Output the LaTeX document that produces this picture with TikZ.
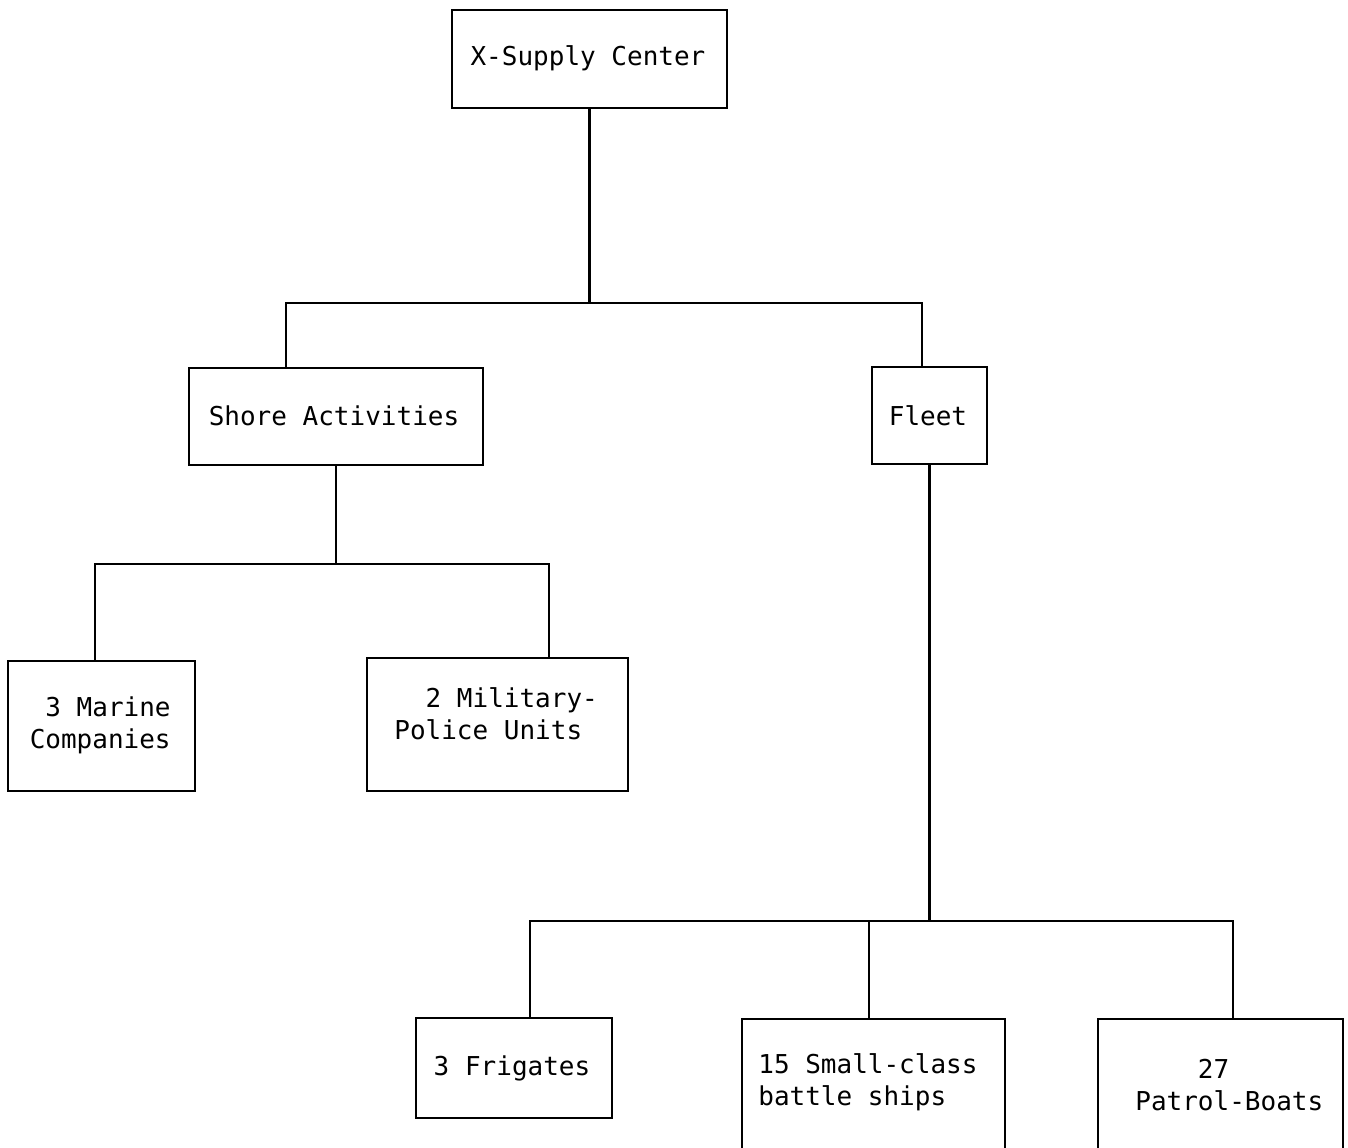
\documentclass[tikz,border=0pt]{standalone}
\usepackage{fontspec}
\newfontfamily\twfont{DejaVu Sans Mono}
\begin{document}
\begin{tikzpicture}[x=0.02cm,y=-0.02cm,
  box/.style={draw=black, line width=1.2pt, inner sep=0pt, rectangle},
  txt/.style={font=\twfont\fontsize{14.8}{18.2}\selectfont, inner sep=0pt},
  link/.style={draw=black, line width=1.2pt}]
\useasboundingbox (0,0) rectangle (1348,1148);
\clip (0,0) rectangle (1348,1148);
\fill[white] (0,0) rectangle (1348,1148);

% boxes
\node[box, minimum width=5.5cm, minimum height=1.96cm] (xs) at (589.5,59) {};
\node[box, minimum width=5.88cm, minimum height=1.94cm] (shore) at (336,416.5) {};
\node[box, minimum width=2.3cm, minimum height=1.94cm] (fleet) at (929.5,415.5) {};
\node[box, minimum width=3.74cm, minimum height=2.6cm] (marine) at (101.5,726) {};
\node[box, minimum width=5.22cm, minimum height=2.66cm] (mp) at (497.5,724.5) {};
\node[box, minimum width=3.92cm, minimum height=2.0cm] (frig) at (514,1068) {};
\node[box, minimum width=5.26cm, minimum height=4cm, anchor=north] (small) at (873.5,1018) {};
\node[box, minimum width=4.9cm, minimum height=4cm, anchor=north] (patrol) at (1220.5,1018) {};

% texts
\node[txt] (xsT) at (588,58) {X-Supply Center};
\node[txt] (shoreT) at (334,416) {Shore Activities};
\node[txt] (fleetT) at (928,416) {Fleet};
\node[txt, align=right, anchor=east] (marineT) at (171,725) {3 Marine\\Companies};
\node[txt, align=left, anchor=west] (mpT) at (394,714) {\hphantom{MM}2 Military-\\Police Units};
\node[txt] (frigT) at (512,1068) {3 Frigates};
\node[txt, align=left, anchor=west] (smallT) at (758,1082) {15 Small-class\\battle ships};
\node[txt, align=left, anchor=west] (patrolT) at (1135,1085) {\hphantom{MMMM}27\\Patrol-Boats};

% bus coordinates
\coordinate (b1L) at (286,303);
\coordinate (b1R) at (922,303);
\coordinate (b2L) at (95,564);
\coordinate (b2R) at (549,564);
\coordinate (b3L) at (530,921);
\coordinate (b3M) at (869,921);
\coordinate (b3R) at (1233,921);

% connectors
\draw[link] (xs.south) -- (xs.south |- b1L);
\draw[link] (shore.north -| b1L) |- (b1R) -- (fleet.north -| b1R);

\draw[link] (shore.south) -- (shore.south |- b2L);
\draw[link] (marine.north -| b2L) |- (b2R) -- (mp.north -| b2R);

\draw[link] (fleet.south) -- (fleet.south |- b3L);
\draw[link] (frig.north -| b3L) |- (b3R) -- (patrol.north -| b3R);
\draw[link] (b3M) -- (small.north -| b3M);
\end{tikzpicture}
\end{document}
